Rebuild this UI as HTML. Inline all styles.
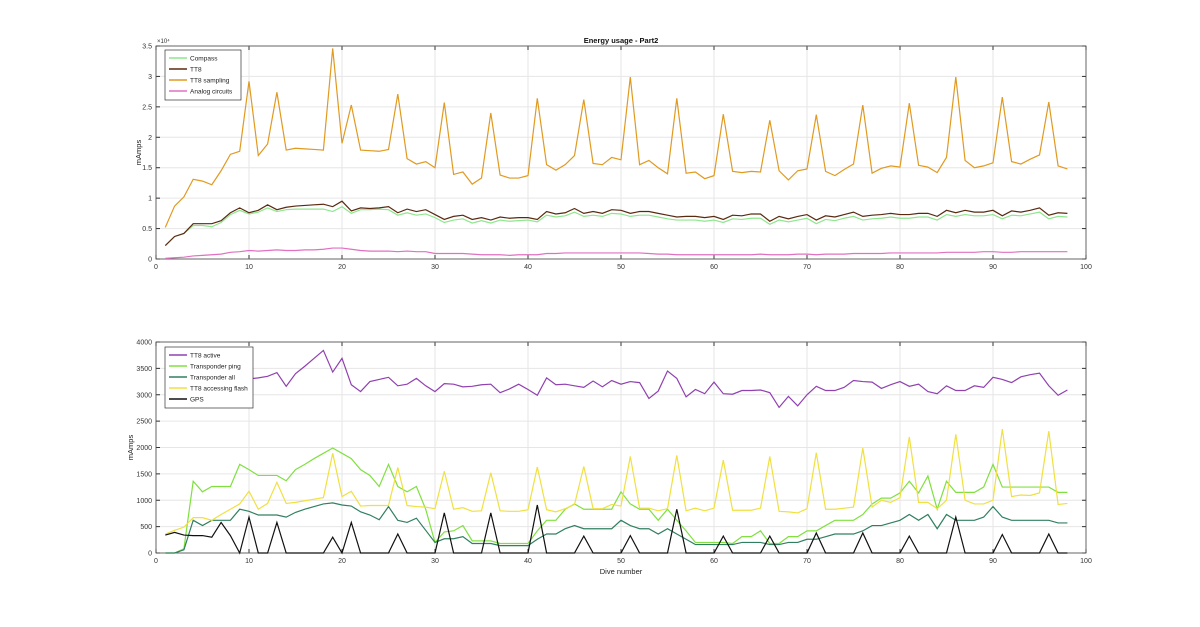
<!DOCTYPE html>
<html><head><meta charset="utf-8"><style>
body{margin:0;background:#fff;}
svg{font-family:"Liberation Sans",sans-serif;}
</style></head><body>
<svg id="c" width="1200" height="622" xmlns="http://www.w3.org/2000/svg"></svg>
<script>
const dives = Array.from({length:98},(_, i)=>i+1);
const compass=[0.22,0.37,0.42,0.55,0.55,0.53,0.6,0.73,0.8,0.74,0.77,0.84,0.78,0.81,0.82,0.82,0.82,0.82,0.78,0.86,0.75,0.81,0.81,0.82,0.81,0.72,0.76,0.72,0.74,0.68,0.6,0.64,0.66,0.59,0.63,0.59,0.64,0.62,0.63,0.64,0.61,0.72,0.69,0.71,0.77,0.7,0.72,0.7,0.75,0.74,0.7,0.72,0.72,0.69,0.66,0.64,0.64,0.64,0.62,0.64,0.6,0.66,0.65,0.67,0.67,0.57,0.64,0.61,0.64,0.67,0.58,0.65,0.63,0.67,0.7,0.64,0.66,0.67,0.69,0.67,0.67,0.69,0.69,0.64,0.73,0.7,0.73,0.71,0.71,0.73,0.66,0.72,0.71,0.74,0.77,0.66,0.7,0.69];
const tt8=[0.22,0.37,0.42,0.58,0.58,0.58,0.63,0.76,0.84,0.76,0.8,0.89,0.81,0.85,0.87,0.88,0.89,0.9,0.86,0.95,0.79,0.84,0.83,0.84,0.86,0.76,0.82,0.78,0.81,0.73,0.65,0.7,0.72,0.65,0.68,0.64,0.69,0.67,0.68,0.68,0.65,0.78,0.74,0.76,0.83,0.75,0.78,0.75,0.81,0.8,0.75,0.78,0.78,0.75,0.72,0.69,0.7,0.7,0.68,0.7,0.65,0.72,0.71,0.74,0.74,0.62,0.7,0.66,0.7,0.73,0.64,0.71,0.69,0.73,0.77,0.7,0.72,0.73,0.75,0.73,0.73,0.75,0.75,0.7,0.8,0.76,0.8,0.77,0.77,0.8,0.71,0.79,0.77,0.8,0.84,0.72,0.76,0.75];
const tt8Sampling=[0.52,0.87,1.02,1.31,1.28,1.22,1.45,1.72,1.77,2.92,1.7,1.89,2.74,1.79,1.82,1.81,1.8,1.79,3.46,1.9,2.53,1.79,1.78,1.77,1.8,2.71,1.65,1.56,1.6,1.5,2.57,1.39,1.43,1.23,1.33,2.4,1.38,1.33,1.33,1.37,2.64,1.55,1.46,1.55,1.7,2.62,1.57,1.55,1.67,1.63,2.99,1.55,1.62,1.5,1.4,2.64,1.41,1.43,1.32,1.37,2.38,1.44,1.42,1.44,1.43,2.28,1.45,1.3,1.45,1.48,2.37,1.44,1.37,1.47,1.56,2.53,1.41,1.49,1.53,1.51,2.56,1.54,1.51,1.42,1.67,2.99,1.62,1.5,1.53,1.58,2.66,1.6,1.56,1.64,1.71,2.58,1.53,1.48];
const analog=[0.01,0.02,0.03,0.05,0.06,0.07,0.08,0.11,0.12,0.14,0.13,0.14,0.15,0.14,0.14,0.15,0.15,0.16,0.18,0.18,0.16,0.14,0.13,0.13,0.13,0.12,0.13,0.12,0.12,0.09,0.09,0.09,0.09,0.08,0.07,0.07,0.07,0.06,0.07,0.07,0.07,0.09,0.09,0.1,0.1,0.1,0.1,0.1,0.1,0.1,0.1,0.1,0.09,0.08,0.08,0.07,0.07,0.07,0.07,0.07,0.07,0.07,0.07,0.07,0.08,0.07,0.07,0.07,0.08,0.08,0.07,0.08,0.08,0.08,0.09,0.09,0.09,0.09,0.1,0.1,0.1,0.1,0.1,0.1,0.11,0.11,0.11,0.11,0.12,0.12,0.11,0.11,0.12,0.12,0.12,0.12,0.12,0.12];
const tt8Active=[2950,3000,3050,3100,3150,3200,3200,3250,3280,3300,3320,3350,3420,3160,3400,3540,3690,3840,3430,3690,3190,3060,3250,3290,3330,3170,3200,3310,3170,3060,3210,3200,3150,3160,3190,3200,3040,3110,3200,3100,2990,3320,3190,3200,3170,3140,3260,3150,3270,3200,3250,3230,2930,3070,3450,3310,2960,3100,3020,3240,3020,3010,3080,3080,3090,3040,2760,2970,2790,3000,3160,3080,3080,3140,3270,3250,3240,3120,3190,3250,3160,3200,3060,3020,3170,3080,3080,3170,3140,3330,3290,3230,3340,3380,3410,3170,2990,3090];
const transPing=[0,0,80,1360,1160,1260,1260,1260,1680,1580,1470,1470,1470,1370,1580,1680,1790,1890,1990,1890,1790,1580,1470,1260,1680,1260,1160,1260,830,200,400,420,520,230,230,230,180,180,180,180,420,620,620,830,930,830,830,830,830,1160,930,830,830,620,830,620,420,200,200,200,200,180,310,310,420,180,180,310,310,420,420,520,620,620,620,730,930,1040,1040,1140,1360,1140,1460,830,1360,1150,1150,1150,1250,1680,1250,1250,1250,1250,1250,1250,1150,1150];
const transAll=[0,0,60,620,520,620,620,620,830,790,720,720,720,680,770,830,880,930,950,910,890,780,720,630,880,620,580,660,430,200,270,270,310,180,180,180,140,140,140,140,260,360,360,460,520,460,460,460,460,620,520,460,460,360,460,360,260,160,160,160,160,160,200,200,200,160,160,200,200,260,260,310,360,360,360,420,520,520,570,620,730,620,730,460,730,620,620,620,680,880,680,620,620,620,620,620,570,570];
const flash=[360,430,490,670,670,620,730,830,930,1170,830,940,1340,940,960,990,1020,1050,1890,1070,1170,890,900,900,900,1620,900,880,870,840,1550,830,860,790,800,1520,800,790,790,820,1630,820,780,840,920,1640,840,840,920,890,1830,850,850,800,840,1850,800,850,800,850,1760,810,810,810,850,1830,790,780,760,840,1900,830,830,850,870,1990,870,1000,960,1050,2200,960,960,840,1000,2250,1000,930,930,1000,2350,1070,1100,1090,1140,2310,920,940];
const gps=[340,390,340,330,330,300,580,330,0,680,0,0,580,0,0,0,0,0,300,0,580,0,0,0,0,360,0,0,0,0,760,0,0,0,0,760,0,0,0,0,910,0,0,0,0,320,0,0,0,0,330,0,0,0,0,830,0,0,0,0,320,0,0,0,0,320,0,0,0,0,380,0,0,0,0,380,0,0,0,0,320,0,0,0,0,680,0,0,0,0,350,0,0,0,0,360,0,0];
const xTicks=[0,10,20,30,40,50,60,70,80,90,100];
const topTicks=[0,0.5,1,1.5,2,2.5,3,3.5];
const botTicks=[0,500,1000,1500,2000,2500,3000,3500,4000];

const svg=document.getElementById('c');const NS='http://www.w3.org/2000/svg';
function mk(t,a,p){const e=document.createElementNS(NS,t);for(const k in a)e.setAttribute(k,a[k]);(p||svg).appendChild(e);return e;}
const X0=156,X1=1086;
function xs(v){return X0+(v/100)*(X1-X0);}
function panel(name,top,bot,ymax,yt,series,legend,legPos,legW,ylx){
  const g=mk('g',{});
  const ys=v=>bot-(v/ymax)*(bot-top);
  mk('rect',{x:X0,y:top,width:X1-X0,height:bot-top,fill:'#fff'},g);
  xTicks.forEach(t=>{const l=mk('line',{x1:xs(t),x2:xs(t),y1:top,y2:bot,stroke:'#e6e6e6','stroke-width':1},g);
    const tx=mk('text',{x:xs(t),y:bot+10,'font-size':7,'text-anchor':'middle',fill:'#333'},g);tx.textContent=t;
    mk('line',{x1:xs(t),x2:xs(t),y1:bot,y2:bot-4,stroke:'#333'},g);mk('line',{x1:xs(t),x2:xs(t),y1:top,y2:top+4,stroke:'#333'},g);});
  yt.forEach(t=>{const y=ys(t);mk('line',{x1:X0,x2:X1,y1:y,y2:y,stroke:'#e6e6e6'},g);
    const tx=mk('text',{x:X0-4,y:y+2.5,'font-size':7,'text-anchor':'end',fill:'#333'},g);tx.textContent=t;
    mk('line',{x1:X0,x2:X0+4,y1:y,y2:y,stroke:'#333'},g);mk('line',{x1:X1,x2:X1-4,y1:y,y2:y,stroke:'#333'},g);});
  mk('rect',{x:X0,y:top,width:X1-X0,height:bot-top,fill:'none',stroke:'#444','stroke-width':0.8},g);
  series.forEach(s=>{const p=mk('polyline',{points:s.d.map((v,i)=>xs(dives[i])+','+ys(v)).join(' '),fill:'none',stroke:s.c,'stroke-width':1.2},g);});
  const lg=mk('g',{},g);
  const h=legend.length*11+6;
  mk('rect',{x:legPos[0],y:legPos[1],width:legW,height:h,fill:'#fff',stroke:'#333','stroke-width':0.7},lg);
  legend.forEach((s,i)=>{const y=legPos[1]+8+i*11;mk('line',{x1:legPos[0]+4,x2:legPos[0]+22,y1:y,y2:y,stroke:s.c,'stroke-width':1.5},lg);
    const tx=mk('text',{x:legPos[0]+25,y:y+2.5,'font-size':6.5,fill:'#222'},lg);tx.textContent=s.l;});
  const yl=mk('text',{x:0,y:0,'font-size':7.5,'text-anchor':'middle',fill:'#222',transform:`translate(${ylx},${(top+bot)/2}) rotate(-90)`},g);yl.textContent='mAmps';
}
const topS=[{d:compass,c:'#8ee68e',n:'compass-line',l:'Compass'},{d:tt8,c:'#5a2a10',n:'tt8-line',l:'TT8'},{d:tt8Sampling,c:'#e09a20',n:'tt8-sampling-line',l:'TT8 sampling'},{d:analog,c:'#e070c0',n:'analog-line',l:'Analog circuits'}];
panel('top-panel',46,259,3.5,topTicks,topS,topS,[165,50],76,141);
const botS=[{d:tt8Active,c:'#9040b0',n:'tt8-active-line',l:'TT8 active'},{d:transPing,c:'#80e040',n:'transponder-ping-line',l:'Transponder ping'},{d:transAll,c:'#308060',n:'transponder-all-line',l:'Transponder all'},{d:flash,c:'#f0e040',n:'tt8-flash-line',l:'TT8 accessing flash'},{d:gps,c:'#111',n:'gps-line',l:'GPS'}];
panel('bottom-panel',342,553,4000,botTicks,botS,botS,[165,347],88,133);
let t=mk('text',{x:621,y:43,'font-size':7.5,'font-weight':'bold','text-anchor':'middle',fill:'#111'});t.textContent='Energy usage - Part2';
t=mk('text',{x:157,y:43,'font-size':6,fill:'#333'});t.textContent='×10⁴';
t=mk('text',{x:621,y:574,'font-size':7.5,'text-anchor':'middle',fill:'#222'});t.textContent='Dive number';
</script>
</body></html>
